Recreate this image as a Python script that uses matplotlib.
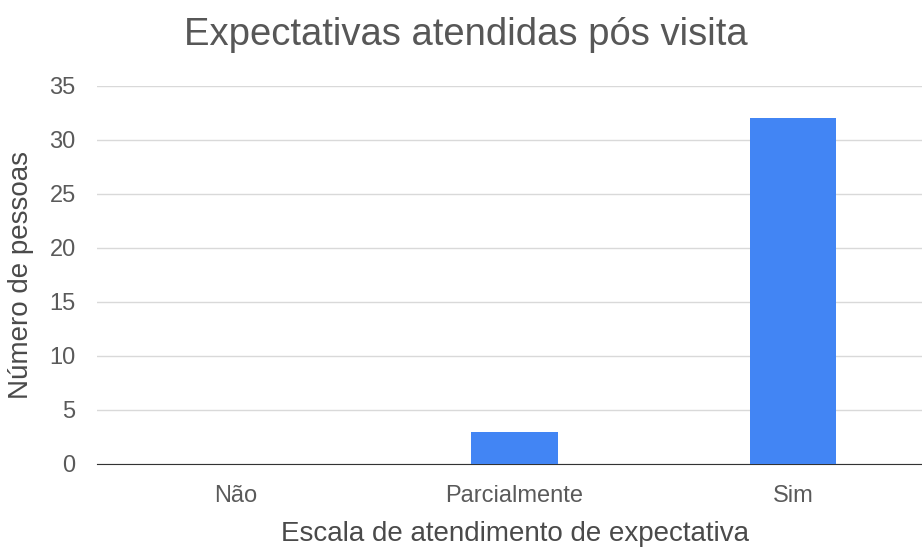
import matplotlib
matplotlib.use("Agg")
import matplotlib.pyplot as plt

categories = ["Não", "Parcialmente", "Sim"]
counts = [0, 3, 32]
yticks = [0, 5, 10, 15, 20, 25, 30, 35]

plt.rcParams["font.family"] = ["Liberation Sans", "DejaVu Sans"]

fig = plt.figure(figsize=(9.22, 5.47), dpi=100)
# plot area runs a little past the right edge, as in the reference
ax = fig.add_axes([96.5 / 922, (547 - 464) / 547, 836 / 922, 378 / 547])

x = range(len(categories))
ax.bar(x, counts, width=0.31, color="#4285f4", zorder=3)

ax.set_xlim(-0.5, 2.5)
ax.set_ylim(0, 35)
ax.set_yticks(yticks)
ax.set_xticks(list(x))
ax.set_xticklabels(categories)
ax.yaxis.grid(True, color="#d9d9d9", linewidth=1)
ax.set_axisbelow(True)
for s in ["top", "right", "left"]:
    ax.spines[s].set_visible(False)
ax.spines["bottom"].set_color("#333333")
ax.tick_params(axis="both", length=0, labelsize=17, colors="#5a5a5a")
ax.tick_params(axis="x", pad=15)
ax.tick_params(axis="y", pad=15)

fig.text(466 / 922, 1 - 35 / 547, "Expectativas atendidas pós visita",
         ha="center", va="center", fontsize=27.5, color="#575757")
ax.set_xlabel("Escala de atendimento de expectativa", fontsize=20, color="#4a4a4a")
ax.xaxis.set_label_coords(0.5, -0.15)
ax.set_ylabel("Número de pessoas", fontsize=20, color="#4a4a4a")
ax.yaxis.set_label_coords(-0.075, 0.5)

fig.savefig("out.png", dpi=100)
